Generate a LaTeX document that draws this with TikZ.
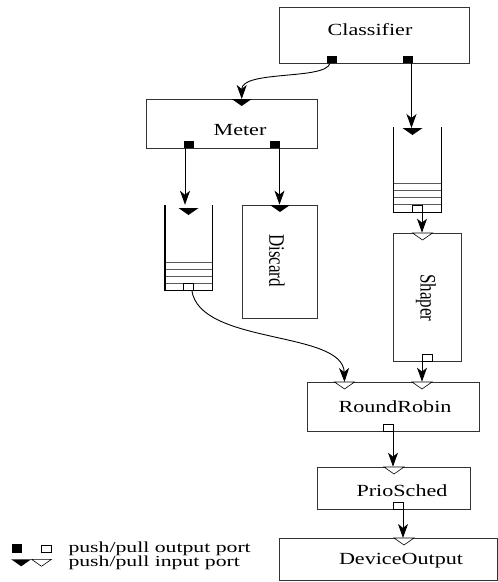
\documentclass[tikz,border=0pt]{standalone}
\usepackage{fontspec}
\setmainfont{Liberation Serif}
\usepackage{graphicx}
\usetikzlibrary{arrows.meta}

% horizontally widened text, plain and turned
\newcommand\wide[1]{\scalebox{1.3}[1]{#1}}
\newcommand\keywide[1]{\scalebox{1.42}[1]{#1}}
\newcommand\sidetext[1]{\scalebox{1.3}[1]{\rotatebox{-90}{#1}}}

\begin{document}
\begin{tikzpicture}[x=1pt,y=-1pt,
  font=\fontsize{17}{17}\selectfont,
  box/.style={draw=black!80, line width=0.7pt, inner sep=0pt},
  lbl/.style={inner sep=0pt, anchor=base},
  keytext/.style={inner sep=0pt, anchor=base west, font=\fontsize{15.3}{15.3}\selectfont},
  pushport/.style={fill=black, inner sep=0pt, minimum width=10pt, minimum height=7pt},
  pullport/.style={draw=black, fill=white, line width=0.6pt, inner sep=0pt, minimum width=10pt, minimum height=7pt},
  flow/.style={line width=0.9pt, -{Stealth[length=14pt,width=10pt,inset=4pt]}},
  wall/.style={line width=1.2pt},
  slot/.style={line width=0.6pt, draw=black!65},
  qframe/.style={inner sep=0pt, minimum width=47.5pt, minimum height=85pt},
  pics/pushin/.style={code={\fill (-10,0) -- (10,0) -- (0,7) -- cycle;}},
  pics/pullin/.style={code={\draw[line width=0.6pt, fill=white] (-10,0) -- (10,0) -- (0,7) -- cycle;}},
]
\useasboundingbox (0,0) rectangle (498,582);

% ---- element boxes
\node[box, minimum width=190pt, minimum height=56pt] (cls) at (374,35) {};
\node[box, minimum width=171pt, minimum height=49pt] (met) at (231.5,123.5) {};
\node[box, minimum width=75pt,  minimum height=113pt] (dis) at (279.5,261.5) {};
\node[box, minimum width=68pt,  minimum height=128pt] (shp) at (427,297) {};
\node[box, minimum width=172pt, minimum height=49pt] (rr)  at (393,406.5) {};
\node[box, minimum width=153pt, minimum height=42pt] (ps)  at (393.5,488) {};
\node[box, minimum width=218pt, minimum height=42pt] (dev) at (388.5,559.3) {};

\node[lbl] (clsT) at (370,35)    {\wide{Classifier}};
\node[lbl] (metT) at (240,135)   {\wide{Meter}};
\node[inner sep=0pt] (disT) at (277,260.5) {\sidetext{Discard}};
\node[inner sep=0pt] (shpT) at (426,298)   {\sidetext{Shaper}};
\node[lbl] (rrT)  at (395,412.7) {\wide{RoundRobin}};
\node[lbl] (psT)  at (402,496.7) {\wide{PrioSched}};
\node[lbl] (devT) at (401,564.5) {\wide{DeviceOutput}};

% ---- queues
\node[qframe] (lq) at (188.9,247.5) {};
\foreach \yy in {262,269,276,283}
  \draw[slot] (lq.west |- 0,\yy) -- (lq.east |- 0,\yy);
\draw[wall] (lq.north west) -- (lq.south west) -- (lq.south east) -- (lq.north east);

\node[qframe] (rq) at (417.5,169.5) {};
\foreach \yy in {183.5,190.5,197.5,204.5}
  \draw[slot] (rq.west |- 0,\yy) -- (rq.east |- 0,\yy);
\draw[wall] (rq.north west) -- (rq.south west) -- (rq.south east) -- (rq.north east);

% ---- output ports
\node[pushport] (clsA) at (332,59.5)  {};
\node[pushport] (clsB) at (408,59.5)  {};
\node[pushport] (metA) at (189,144.5) {};
\node[pushport] (metB) at (275,144.5) {};
\node[pullport] (lqP)  at (188.3,286.5) {};
\node[pullport] (rqP)  at (417.5,208.5) {};
\node[pullport] (shpP) at (427,357.5) {};
\node[pullport] (rrP)  at (388.5,428) {};
\node[pullport] (psP)  at (398.5,506) {};

% ---- input ports
\coordinate (metIn) at (241.7,99);
\coordinate (lqIn)  at (188.5,208);
\coordinate (disIn) at (280,205);
\coordinate (rqIn)  at (412.5,128);
\coordinate (shpIn) at (422.5,233);
\coordinate (rrInA) at (344.5,382);
\coordinate (rrInB) at (422,382);
\coordinate (psIn)  at (394,467);
\coordinate (devIn) at (404,538);
\pic at (metIn) {pushin};
\pic at (lqIn)  {pushin};
\pic at (disIn) {pushin};
\pic at (rqIn)  {pushin};
\pic at (shpIn) {pullin};
\pic at (rrInA) {pullin};
\pic at (rrInB) {pullin};
\pic at (psIn)  {pullin};
\pic at (devIn) {pullin};

% ---- connections
\draw[flow] ([xshift=-2pt]clsA.south) .. controls +(-4,17) and +(0,-29) .. (metIn);
\draw[flow] ([xshift=3.5pt]clsB.south) -- ([xshift=3.5pt]clsB.south |- rqIn);
\draw[flow] ([xshift=-4pt]metA.south) -- ([xshift=-4pt]metA.south |- lq.north);
\draw[flow] ([xshift=4.5pt]metB.south) -- ([xshift=4.5pt]metB.south |- dis.north);
\draw[flow] ([xshift=3.5pt]lqP.south) .. controls +(8,55) and +(-1.5,-52) .. (rrInA);
\draw[flow] ([xshift=4.5pt]rqP.south) -- ([xshift=4.5pt]rqP.south |- shp.north);
\draw[flow] ([xshift=-5pt]shpP.south) -- ([xshift=-5pt]shpP.south |- rr.north);
\draw[flow] ([xshift=4.5pt]rrP.south) -- ([xshift=4.5pt]rrP.south |- ps.north);
\draw[flow] ([xshift=4.5pt]psP.south) -- ([xshift=4.5pt]psP.south |- dev.north);

% ---- key
\node[pushport, minimum height=8.5pt] (keyA) at (16.7,548.3) {};
\node[pullport] (keyB) at (46.7,548.3) {};
\coordinate (keyC) at (21.2,559.3);
\coordinate (keyD) at (41.5,559.3);
\pic at (keyC) {pushin};
\pic at (keyD) {pullin};
\node[keytext] (keyOut) at (68.3,552) {\keywide{push/pull output port}};
\node[keytext] (keyIn)  at (68.3,566.5) {\keywide{push/pull input port}};
\end{tikzpicture}
\end{document}
